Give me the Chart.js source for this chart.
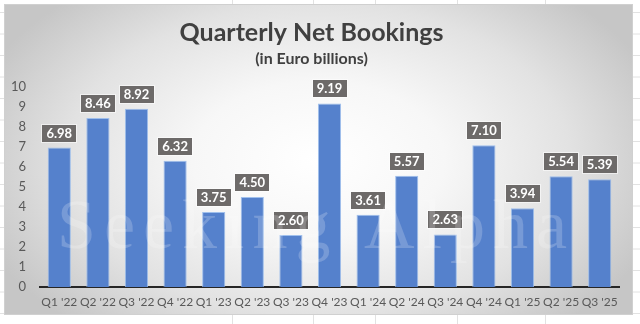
<!DOCTYPE html>
<html>
<head>
<meta charset="utf-8">
<script src="https://cdn.jsdelivr.net/npm/chart.js@4.4.1/dist/chart.umd.min.js"></script>
<style>
  html, body { margin: 0; padding: 0; background: #fff; }
  #wrap { width: 640px; height: 324px; }
</style>
</head>
<body>
<div id="wrap"><canvas id="bookings"></canvas></div>
<script>
const quarters = ["Q1 '22", "Q2 '22", "Q3 '22", "Q4 '22", "Q1 '23", "Q2 '23", "Q3 '23", "Q4 '23",
                  "Q1 '24", "Q2 '24", "Q3 '24", "Q4 '24", "Q1 '25", "Q2 '25", "Q3 '25"];
const netBookings = [6.98, 8.46, 8.92, 6.32, 3.75, 4.50, 2.60, 9.19, 3.61, 5.57, 2.63, 7.10, 3.94, 5.54, 5.39];
const yTicks = [0, 1, 2, 3, 4, 5, 6, 7, 8, 9, 10];

const FONT = "Lato, 'Open Sans', sans-serif";

// sheet background + gradient chart panel
const panelBg = {
  id: 'panelBg',
  beforeDraw(chart) {
    const ctx = chart.ctx;
    const w = chart.width, h = chart.height;
    ctx.save();
    ctx.fillStyle = '#ffffff';
    ctx.fillRect(0, 0, w, h);
    ctx.strokeStyle = '#e2e2e2';
    ctx.lineWidth = 1;
    for (let y = 12.5; y < h; y += 21.5) {
      ctx.beginPath(); ctx.moveTo(0, y); ctx.lineTo(w, y); ctx.stroke();
    }
    [232.5, 313.5, 375.5, 457.5, 545.5].forEach(x => {
      ctx.beginPath(); ctx.moveTo(x, 0); ctx.lineTo(x, h); ctx.stroke();
    });

    const x0 = 4, y0 = 4, pw = 629, ph = 311;
    ctx.beginPath();
    ctx.rect(x0, y0, pw, ph);
    ctx.clip();
    ctx.translate(x0 + pw / 2, y0 + ph * 0.5);
    ctx.scale(1, 0.62);
    const g = ctx.createRadialGradient(0, 0, 0, 0, 0, 360);
    g.addColorStop(0, '#ffffff');
    g.addColorStop(0.35, '#f7f7f7');
    g.addColorStop(0.7, '#e2e2e2');
    g.addColorStop(1, '#c6c6c6');
    ctx.fillStyle = g;
    ctx.fillRect(-400, -400, 800, 800);
    ctx.restore();

    ctx.save();
    ctx.strokeStyle = '#d0d0d0';
    ctx.strokeRect(x0 + 0.5, y0 + 0.5, pw - 1, ph - 1);
    ctx.restore();
  }
};

// value boxes above each bar
const valueBoxes = {
  id: 'valueBoxes',
  afterDatasetsDraw(chart) {
    const ctx = chart.ctx;
    const meta = chart.getDatasetMeta(0);
    ctx.save();
    ctx.font = "bold 13px " + FONT;
    ctx.textAlign = 'center';
    ctx.textBaseline = 'middle';
    meta.data.forEach((bar, i) => {
      const txt = netBookings[i].toFixed(2);
      const tw = ctx.measureText(txt).width;
      const bw = Math.round(tw + 8), bh = 17;
      const bx = Math.round(bar.x - bw / 2);
      const by = Math.round(bar.y - 6 - bh);
      ctx.fillStyle = '#6d6a69';
      ctx.fillRect(bx, by, bw, bh);
      ctx.strokeStyle = 'rgba(255,255,255,0.55)';
      ctx.lineWidth = 1;
      ctx.strokeRect(bx - 0.5, by - 0.5, bw + 1, bh + 1);
      ctx.fillStyle = '#ffffff';
      ctx.fillText(txt, bar.x, by + bh / 2 + 0.5);
    });
    ctx.restore();
  }
};

// faint site watermark over the plot
const watermark = {
  id: 'watermark',
  afterDraw(chart) {
    const ctx = chart.ctx;
    ctx.save();
    ctx.font = "70px 'Liberation Serif', 'DejaVu Serif', serif";
    if ('letterSpacing' in ctx) ctx.letterSpacing = '8px';
    ctx.textBaseline = 'alphabetic';
    ctx.fillStyle = 'rgba(255,255,255,0.2)';
    ctx.fillText('Seeking Alpha', 57, 248);
    ctx.restore();
  }
};

new Chart(document.getElementById('bookings'), {
  type: 'bar',
  data: {
    labels: quarters,
    datasets: [{
      data: netBookings,
      backgroundColor: '#5581cc',
      borderColor: 'rgba(150,185,235,0.9)',
      borderWidth: 1,
      barPercentage: 0.6,
      categoryPercentage: 1.0
    }]
  },
  options: {
    responsive: true,
    maintainAspectRatio: false,
    animation: false,
    layout: { padding: { left: 4, right: 21, top: 4, bottom: 9 } },
    plugins: {
      legend: { display: false },
      tooltip: { enabled: false },
      title: {
        display: true,
        text: 'Quarterly Net Bookings',
        color: '#404040',
        font: { family: FONT, size: 25, weight: 'bold' },
        padding: { top: 14, bottom: 1 }
      },
      subtitle: {
        display: true,
        text: '(in Euro billions)',
        color: '#404040',
        font: { family: FONT, size: 16, weight: 'bold' },
        padding: { top: 0, bottom: 19 }
      }
    },
    scales: {
      x: {
        grid: { display: true, color: 'transparent', drawTicks: false },
        border: { display: true, color: '#262626', width: 2 },
        ticks: { color: '#595959', font: { family: FONT, size: 12 }, padding: 8, maxRotation: 0, autoSkip: false },
        afterFit(scale) { scale.height = 28; }
      },
      y: {
        min: 0,
        max: 10,
        afterBuildTicks(scale) { scale.ticks = yTicks.map(v => ({ value: v })); },
        grid: { display: false, drawTicks: false },
        border: { display: false },
        ticks: { color: '#595959', font: { family: FONT, size: 13 }, padding: 14 },
        afterFit(scale) { scale.width = 36; }
      }
    }
  },
  plugins: [panelBg, valueBoxes, watermark]
});
</script>
</body>
</html>
